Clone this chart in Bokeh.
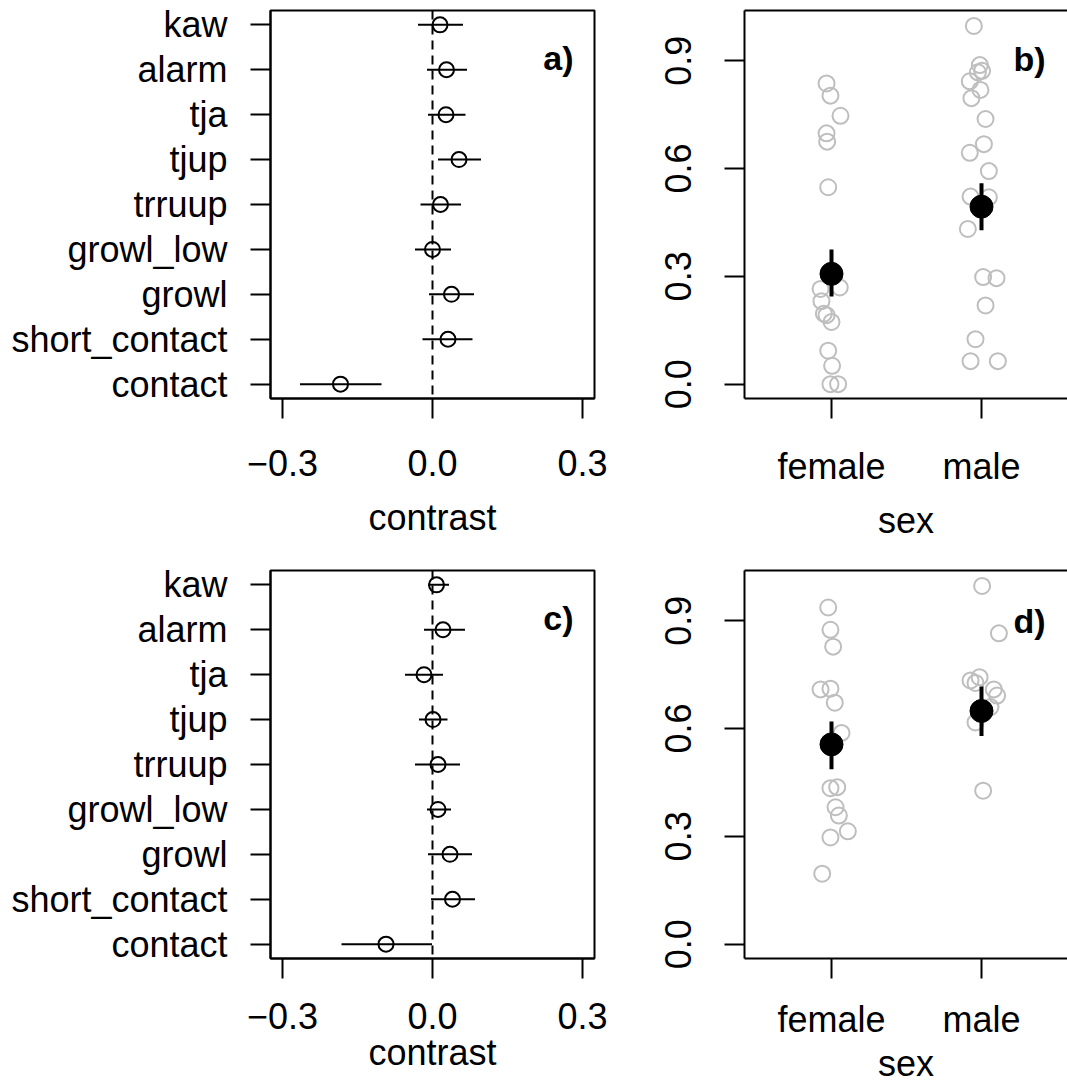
from bokeh.plotting import figure
from bokeh.layouts import column, row
from bokeh.models import FixedTicker, Span, Label, LinearAxis, Range1d
from bokeh.embed import file_html
from bokeh.resources import INLINE

FONT = "Liberation Sans"
GRAY = "#bebebe"

# ---------------- data ----------------
calls = ["kaw", "alarm", "tja", "tjup", "trruup", "growl_low", "growl", "short_contact", "contact"]

a_est = [0.015, 0.028, 0.027, 0.053, 0.016, 0.000, 0.038, 0.031, -0.184]
a_lo = [-0.029, -0.011, -0.009, 0.011, -0.024, -0.035, -0.007, -0.020, -0.265]
a_hi = [0.061, 0.069, 0.066, 0.097, 0.057, 0.037, 0.083, 0.080, -0.102]

c_est = [0.008, 0.021, -0.017, 0.001, 0.011, 0.011, 0.035, 0.040, -0.093]
c_lo = [-0.009, -0.017, -0.055, -0.027, -0.035, -0.011, -0.009, -0.003, -0.182]
c_hi = [0.033, 0.065, 0.021, 0.030, 0.055, 0.037, 0.079, 0.085, -0.001]

contrast_ticks = [-0.3, 0.0, 0.3]
contrast_tick_labels = ["\u22120.3", "0.0", "0.3"]

sexes = ["female", "male"]
y_ticks = [0.0, 0.3, 0.6, 0.9]
y_tick_labels = ["0.0", "0.3", "0.6", "0.9"]

b_female_y = [0.837, 0.803, 0.747, 0.698, 0.675, 0.548, 0.269, 0.265, 0.231, 0.196, 0.192, 0.173, 0.093, 0.051, 0.0, 0.0]
b_female_jit = [-0.033, -0.007, 0.060, -0.033, -0.029, -0.022, 0.055, -0.073, -0.067, -0.051, -0.033, 0.000, -0.022, 0.004, -0.007, 0.044]
b_male_y = [0.997, 0.888, 0.872, 0.868, 0.843, 0.819, 0.796, 0.738, 0.668, 0.644, 0.593, 0.522, 0.520, 0.432, 0.298, 0.295, 0.219, 0.125, 0.064, 0.064]
b_male_jit = [-0.051, -0.011, 0.004, -0.024, -0.078, -0.007, -0.067, 0.027, 0.016, -0.078, 0.049, -0.073, 0.049, -0.091, 0.011, 0.100, 0.027, -0.040, -0.073, 0.109]
b_mean = [0.307, 0.494]
b_lo = [0.244, 0.428]
b_hi = [0.375, 0.559]

d_female_y = [0.937, 0.875, 0.828, 0.709, 0.711, 0.672, 0.588, 0.434, 0.437, 0.381, 0.358, 0.314, 0.297, 0.196]
d_female_jit = [-0.022, -0.007, 0.011, -0.073, -0.007, 0.022, 0.067, -0.007, 0.038, 0.027, 0.049, 0.109, -0.007, -0.062]
d_male_y = [0.997, 0.865, 0.743, 0.734, 0.727, 0.709, 0.692, 0.660, 0.617, 0.427]
d_male_jit = [0.004, 0.116, -0.013, -0.073, -0.040, 0.082, 0.104, 0.060, -0.040, 0.011]
d_mean = [0.556, 0.649]
d_lo = [0.487, 0.579]
d_hi = [0.620, 0.717]

LEFT_W = 648     # width of left-column figures
LEFT_B = 270     # left border of left-column figures
RIGHT_W = 419    # width of right-column figures
RIGHT_B = 96     # left border of right-column figures


def style_axis(ax, standoff):
    ax.axis_line_width = 2
    ax.axis_line_color = "black"
    ax.major_tick_line_width = 2
    ax.major_tick_line_color = "black"
    ax.major_tick_out = 20
    ax.major_tick_in = 0
    ax.minor_tick_out = 0
    ax.minor_tick_in = 0
    ax.major_label_text_font = FONT
    ax.major_label_text_font_size = "36px"
    ax.major_label_text_color = "black"
    ax.major_label_standoff = standoff
    ax.axis_label_text_font = FONT
    ax.axis_label_text_font_size = "36px"
    ax.axis_label_text_font_style = "normal"
    ax.axis_label_text_color = "black"


def contrast_panel(est, lo, hi, letter, height, top, bottom, ts, ls):
    n = len(calls)
    pos = list(range(n, 0, -1))
    p = figure(width=LEFT_W, height=height, output_backend="svg", toolbar_location=None,
               x_range=Range1d(-0.324, 0.324), y_range=Range1d(0.68, n + 0.32),
               min_border_left=LEFT_B, min_border_right=LEFT_W - LEFT_B - 324,
               min_border_top=top, min_border_bottom=bottom)
    p.xgrid.visible = False
    p.ygrid.visible = False
    p.outline_line_color = "black"
    p.outline_line_width = 2
    p.add_layout(Span(location=0, dimension="height", line_color="black",
                      line_width=2, line_dash="9 6"))
    p.segment(x0=lo, y0=pos, x1=hi, y1=pos, line_color="black", line_width=2)
    p.scatter(x=est, y=pos, size=15, fill_color=None, line_color="black", line_width=2)
    p.xaxis.ticker = FixedTicker(ticks=contrast_ticks)
    p.xaxis.major_label_overrides = dict(zip(contrast_ticks, contrast_tick_labels))
    p.xaxis.axis_label = "contrast"
    p.yaxis.ticker = FixedTicker(ticks=pos)
    p.yaxis.major_label_overrides = dict(zip(pos, calls))
    style_axis(p.xaxis[0], ts)
    style_axis(p.yaxis[0], 23)
    p.xaxis.axis_label_standoff = ls
    p.add_layout(Label(x=0.282, y=8.27, text=letter, text_font=FONT, text_font_size="34px",
                       text_font_style="bold", text_color="black",
                       text_align="right", text_baseline="alphabetic"))
    return p


def sex_panel(fy, fj, my, mj, mean, lo, hi, letter, ly, height, top, bottom, ts, ls):
    p = figure(width=RIGHT_W, height=height, output_backend="svg", toolbar_location=None,
               x_range=Range1d(0.42, 0.42 + (RIGHT_W - RIGHT_B) / 150.0), y_range=Range1d(-0.04, 1.04),
               min_border_left=RIGHT_B, min_border_right=0,
               min_border_top=top, min_border_bottom=bottom)
    p.xgrid.visible = False
    p.ygrid.visible = False
    p.outline_line_color = None
    xs_f = [1 + j for j in fj]
    xs_m = [2 + j for j in mj]
    p.scatter(x=xs_f + xs_m, y=fy + my, size=16, fill_color=None, line_color=GRAY, line_width=2)
    grp = [1, 2]
    p.segment(x0=grp, y0=lo, x1=grp, y1=hi, line_color="black", line_width=4)
    p.scatter(x=grp, y=mean, size=23, fill_color="black", line_color="black")
    p.xaxis.ticker = FixedTicker(ticks=grp)
    p.xaxis.major_label_overrides = dict(zip(grp, sexes))
    p.xaxis.axis_label = "sex"
    p.yaxis.ticker = FixedTicker(ticks=y_ticks)
    p.yaxis.major_label_overrides = dict(zip(y_ticks, y_tick_labels))
    p.yaxis.major_label_orientation = "vertical"
    style_axis(p.xaxis[0], ts)
    style_axis(p.yaxis[0], 33)
    p.xaxis.axis_label_standoff = ls
    top_ax = LinearAxis(ticker=FixedTicker(ticks=[]), axis_line_width=2, axis_line_color="black",
                        major_tick_out=0, major_tick_in=0, minor_tick_out=0, minor_tick_in=0,
                        major_label_standoff=0, major_label_text_font_size="0px")
    p.add_layout(top_ax, "above")
    p.add_layout(Label(x=2.427, y=ly, text=letter, text_font=FONT, text_font_size="34px",
                       text_font_style="bold", text_color="black",
                       text_align="right", text_baseline="alphabetic"))
    return p


pa = contrast_panel(a_est, a_lo, a_hi, "a)", 560, 10, 162, 31, 18)
pb = sex_panel(b_female_y, b_female_jit, b_male_y, b_male_jit, b_mean, b_lo, b_hi, "b)", 0.906,
               560, 10, 162, 27, 10)
pc = contrast_panel(c_est, c_lo, c_hi, "c)", 531, 10, 133, 24, 0)
pd = sex_panel(d_female_y, d_female_jit, d_male_y, d_male_jit, d_mean, d_lo, d_hi, "d)", 0.90,
               531, 10, 133, 20, 0)

layout = column(row(pa, pb), row(pc, pd))
open("out.html", "w").write(file_html(layout, INLINE))
